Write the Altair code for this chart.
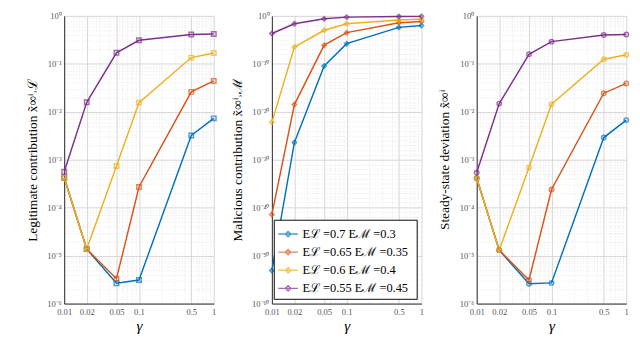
import altair as alt
import pandas as pd

# ---- data ----
gamma = [0.01, 0.02, 0.05, 0.1, 0.5, 1]
labels = ["Eℒ =0.7  Eℳ =0.3", "Eℒ =0.65  Eℳ =0.35", "Eℒ =0.6  Eℳ =0.4", "Eℒ =0.55  Eℳ =0.45"]
colors = ["#0072BD", "#D95319", "#EDB120", "#7E2F8E"]

# Legitimate contribution
legit_a = [4.2e-4, 1.37e-5, 2.66e-6, 3.1e-6, 3.2e-3, 7.3e-3]
legit_b = [4.2e-4, 1.37e-5, 3.3e-6, 2.7e-4, 0.026, 0.044]
legit_c = [4.2e-4, 1.37e-5, 7.4e-4, 0.0155, 0.135, 0.168]
legit_d = [5.6e-4, 0.0158, 0.17, 0.31, 0.41, 0.42]

# Malicious contribution
mal_a = [7.9e-54, 4.0e-27, 3.5e-11, 1.6e-6, 4.0e-3, 1.0e-2]
mal_b = [4.0e-42, 3.2e-19, 7.9e-7, 3.2e-4, 0.037, 0.066]
mal_c = [6.3e-23, 3.2e-7, 1.0e-3, 0.023, 0.14, 0.22]
mal_d = [2.1e-4, 0.023, 0.25, 0.55, 0.72, 0.79]

# Steady-state deviation
dev_a = [4.1e-4, 1.3e-5, 2.6e-6, 2.7e-6, 2.9e-3, 6.7e-3]
dev_b = [4.1e-4, 1.3e-5, 3.1e-6, 2.4e-4, 0.0244, 0.039]
dev_c = [4.1e-4, 1.3e-5, 6.9e-4, 0.0144, 0.125, 0.155]
dev_d = [5.4e-4, 0.0148, 0.158, 0.29, 0.40, 0.41]

x_labeled = [0.01, 0.02, 0.05, 0.1, 0.5, 1]

FONT = "Liberation Serif"
SUP = {"0": "⁰", "1": "¹", "2": "²", "3": "³", "4": "⁴", "5": "⁵",
       "6": "⁶", "7": "⁷", "8": "⁸", "9": "⁹", "-": "⁻"}


def sup(e):
    return "".join(SUP[c] for c in str(e))


def make_df(series):
    rows = []
    for lab, vals in zip(labels, series):
        for g, v in zip(gamma, vals):
            rows.append({"gamma": g, "value": v, "series": lab})
    return pd.DataFrame(rows)


def y_axis(lo_exp, label_step, title, minor_sub):
    decades = [float(f"1e{k}") for k in range(0, lo_exp - 1, -1)]
    major = [float(f"1e{k}") for k in range(0, lo_exp - 1, -label_step)]
    minors = []
    if minor_sub:
        for k in range(lo_exp, 0):
            for m in range(2, 10):
                minors.append(m * 10.0 ** k)
    values = decades + minors
    expr = "''"
    for k in range(lo_exp, 1, label_step):
        v = float(f"1e{k}")
        expr = f"datum.value == {v!r} ? '10{sup(k)}' : ({expr})"
    major_list = "[" + ",".join(repr(v) for v in major) + "]"
    test = f"indexof({major_list}, datum.value) >= 0"
    return alt.Axis(
        values=values, labelExpr=expr, title=title, ticks=False, labelFlush=False,
        gridDash={"condition": {"test": test, "value": []}, "value": [1, 2]},
        gridColor={"condition": {"test": test, "value": "#d4d4d4"}, "value": "#e4e4e4"},
        labelPadding=3, titlePadding=8,
    )


def x_axis():
    vals = []
    for k in (-2, -1):
        for m in range(1, 10):
            vals.append(m * 10.0 ** k)
    vals.append(1.0)
    lab_list = "[" + ",".join(repr(v) for v in x_labeled) + "]"
    test = f"indexof({lab_list}, datum.value) >= 0"
    return alt.Axis(
        values=vals, title="γ", ticks=False, labelFlush=False,
        labelExpr=f"{test} ? format(datum.value, '') : ''",
        gridDash={"condition": {"test": test, "value": []}, "value": [1, 2]},
        gridColor={"condition": {"test": test, "value": "#d4d4d4"}, "value": "#e4e4e4"},
        titleFontStyle="italic", titleFontSize=16, titlePadding=2, labelPadding=4,
    )


legend_path = "M-1,0H1M0,-0.27L0.27,0L0,0.27L-0.27,0Z"


def panel(series, title, shape, lo_exp, label_step, minor_sub, legend):
    df = make_df(series)
    if legend:
        leg = alt.Legend(orient="bottom-right", offset=5, title=None,
                         strokeColor="black", fillColor="white", padding=4,
                         labelFont=FONT, labelFontSize=13, labelColor="black",
                         labelLimit=300, symbolType=legend_path, symbolSize=420,
                         symbolStrokeWidth=1.5, rowPadding=1, symbolOffset=0)
    else:
        leg = None
    color = alt.Color("series:N", scale=alt.Scale(domain=labels, range=colors), legend=leg)
    x = alt.X("gamma:Q", scale=alt.Scale(type="log", domain=[0.01, 1], nice=False), axis=x_axis())
    y = alt.Y("value:Q",
              scale=alt.Scale(type="log", domain=[float(f"1e{lo_exp}"), 1], nice=False),
              axis=y_axis(lo_exp, label_step, title, minor_sub))
    line = alt.Chart(df).mark_line(strokeWidth=1.5).encode(x=x, y=y, color=color, order=alt.Order("gamma:Q"))
    pts = alt.Chart(df).mark_point(shape=shape, filled=False, size=22, strokeWidth=1.5).encode(
        x=x, y=y, color=color)
    return alt.layer(line, pts).properties(width=157, height=302)


p1 = panel([legit_a, legit_b, legit_c, legit_d], "Legitimate contribution  x̃∞ⁱ˒ℒ",
           "square", -6, 1, True, False)
p2 = panel([mal_a, mal_b, mal_c, mal_d], "Malicious contribution  x̃∞ⁱ˒ℳ",
           "diamond", -60, 10, False, True)
p3 = panel([dev_a, dev_b, dev_c, dev_d], "Steady-state deviation  x̃∞ⁱ",
           "circle", -6, 1, True, False)

chart = (
    alt.hconcat(p1, p2, p3, spacing=11)
    .resolve_scale(color="independent")
    .resolve_legend(color="independent")
    .properties(padding={"left": 18, "top": -5, "right": 0, "bottom": 0})
    .configure_view(stroke=None)
    .configure_axis(
        labelFont=FONT, labelFontSize=9, labelColor="#555555",
        titleFont=FONT, titleFontSize=14, titleFontWeight="normal", titleColor="black",
        domainColor="#262626", domainWidth=1,
    )
)

chart.save("out.html", embed_options={"renderer": "svg", "actions": False})
